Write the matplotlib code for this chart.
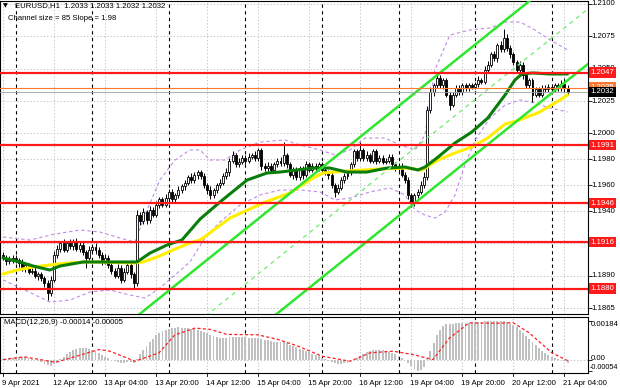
import matplotlib
matplotlib.use("Agg")
import matplotlib.pyplot as plt
import numpy as np
from matplotlib.transforms import blended_transform_factory

# ---------------- data ----------------
close = [
    1.1904, 1.1901, 1.1902, 1.1904, 1.1902, 1.1900, 1.1896, 1.1898, 1.1893, 1.1894,
    1.1890, 1.1891, 1.1888, 1.1884, 1.1877, 1.1887, 1.1906, 1.1911, 1.1915, 1.1910,
    1.1915, 1.1913, 1.1916, 1.1911, 1.1914, 1.1908, 1.1904, 1.1910, 1.1912, 1.1910,
    1.1906, 1.1901, 1.1904, 1.1898, 1.1894, 1.1890, 1.1896, 1.1887, 1.1893, 1.1898,
    1.1891, 1.1884, 1.1937, 1.1932, 1.1939, 1.1933, 1.1941, 1.1937, 1.1945, 1.1949,
    1.1945, 1.1950, 1.1955, 1.1949, 1.1952, 1.1956, 1.1959, 1.1962, 1.1966, 1.1964,
    1.1968, 1.1970, 1.1967, 1.1960, 1.1956, 1.1952, 1.1956, 1.1960, 1.1962, 1.1967,
    1.1970, 1.1979, 1.1983, 1.1976, 1.1978, 1.1981, 1.1979, 1.1982, 1.1983, 1.1981,
    1.1987, 1.1975, 1.1973, 1.1975, 1.1972, 1.1976, 1.1979, 1.1977, 1.1983, 1.1976,
    1.1968, 1.1972, 1.1966, 1.1973, 1.1968, 1.1976, 1.1972, 1.1975, 1.1973, 1.1976,
    1.1972, 1.1970, 1.1968, 1.1960, 1.1955, 1.1958, 1.1964, 1.1967, 1.1970, 1.1976,
    1.1986, 1.1981, 1.1987, 1.1981, 1.1983, 1.1979, 1.1986, 1.1979, 1.1981, 1.1978,
    1.1979, 1.1982, 1.1976, 1.1973, 1.1975, 1.1968, 1.1964, 1.1952, 1.1946, 1.1952,
    1.1955, 1.1960, 1.1966, 1.2018, 1.2032, 1.2037, 1.2043, 1.2037, 1.2041, 1.2030,
    1.2022, 1.2030, 1.2035, 1.2032, 1.2037, 1.2035, 1.2037, 1.2036, 1.2038, 1.2041,
    1.2040, 1.2049, 1.2053, 1.2061, 1.2058, 1.2068, 1.2065, 1.2074, 1.2066, 1.2061,
    1.2055, 1.2049, 1.2053, 1.2045, 1.2037, 1.2041, 1.2030, 1.2034, 1.2030, 1.2035,
    1.2034, 1.2036, 1.2034, 1.2037, 1.2035, 1.2038, 1.2035, 1.2032]
first_open = 1.1906
wick_up_pips = [
    2, 2, 3, 2, 2, 2, 3, 2, 2, 2,
    3, 2, 2, 2, 3, 3, 3, 3, 2, 3,
    2, 3, 2, 3, 2, 3, 2, 3, 2, 3,
    2, 2, 3, 2, 2, 2, 3, 2, 3, 2,
    2, 2, 4, 2, 3, 2, 3, 2, 3, 2,
    2, 3, 2, 2, 2, 3, 2, 2, 2, 3,
    2, 2, 2, 2, 2, 3, 2, 2, 3, 2,
    3, 2, 3, 2, 3, 2, 2, 3, 2, 3,
    2, 2, 2, 3, 2, 2, 2, 3, 10, 2,
    2, 2, 2, 2, 2, 3, 2, 2, 2, 2,
    2, 2, 2, 2, 2, 3, 2, 2, 2, 2,
    2, 2, 6, 2, 3, 2, 2, 2, 2, 2,
    2, 2, 2, 2, 2, 2, 2, 2, 2, 2,
    2, 3, 4, 3, 4, 2, 3, 2, 2, 2,
    2, 2, 2, 2, 2, 2, 2, 2, 2, 3,
    2, 3, 3, 2, 3, 2, 3, 7, 3, 2,
    2, 2, 3, 2, 2, 2, 2, 2, 2, 2,
    2, 2, 2, 2, 2, 3, 5, 2]
wick_dn_pips = [
    2, 3, 2, 2, 2, 3, 2, 3, 2, 2,
    2, 3, 2, 3, 6, 3, 2, 2, 3, 2,
    2, 2, 3, 2, 3, 2, 8, 2, 2, 3,
    2, 3, 2, 2, 3, 2, 2, 3, 2, 2,
    3, 4, 2, 3, 2, 3, 2, 2, 2, 3,
    2, 2, 3, 2, 2, 2, 2, 3, 2, 2,
    2, 3, 2, 2, 3, 3, 2, 2, 2, 2,
    2, 3, 2, 2, 2, 2, 3, 2, 2, 2,
    2, 3, 2, 2, 3, 2, 2, 2, 2, 3,
    2, 3, 2, 2, 3, 2, 2, 2, 2, 2,
    2, 2, 3, 2, 4, 2, 2, 2, 2, 2,
    2, 2, 2, 2, 2, 2, 2, 3, 2, 2,
    2, 2, 2, 2, 2, 2, 2, 3, 3, 2,
    2, 2, 2, 2, 2, 3, 2, 2, 3, 2,
    4, 2, 2, 2, 2, 2, 2, 2, 2, 2,
    2, 2, 2, 2, 2, 3, 2, 2, 2, 3,
    2, 2, 2, 3, 2, 2, 6, 2, 2, 2,
    2, 2, 2, 2, 2, 2, 3, 2]

ma_green_idx = [0, 5.3, 9.4, 14.7, 17.9, 25.1, 33.5, 42.0, 46.1, 51.4, 56.1, 61.8,
                68.0, 76.5, 82.8, 86.8, 97.2, 102.5, 107.8, 114.1, 120.4, 126.0,
                130.1, 132.3, 136.4, 141.7, 147.0, 152.0, 157.4, 160.5, 162.7,
                166.1, 171.5, 177]
ma_green_val = [1.19037, 1.19006, 1.18975, 1.18944, 1.18975, 1.19006, 1.19006,
                1.19006, 1.19075, 1.19137, 1.19176, 1.19338, 1.19469, 1.19639,
                1.19694, 1.19701, 1.19732, 1.19732, 1.19701, 1.19701, 1.19732,
                1.19740, 1.19717, 1.19740, 1.19817, 1.19926, 1.20011, 1.20119,
                1.20297, 1.20413, 1.20459, 1.20467, 1.20459, 1.20459]
ma_yellow_idx = [0, 4.4, 9.4, 14.7, 20.1, 26.3, 30.4, 40.8, 43.9, 48.3, 53.3, 58.6,
                 61.8, 71.2, 81.5, 90.0, 97.2, 100.3, 107.8, 118.2, 126.6, 131.3,
                 136.4, 141.7, 147.0, 152.0, 157.4, 161.1, 168.3, 174.6, 177]
ma_yellow_val = [1.18913, 1.18944, 1.18967, 1.18983, 1.18998, 1.19006, 1.19006,
                 1.18998, 1.19006, 1.19044, 1.19099, 1.19153, 1.19176, 1.19346,
                 1.19462, 1.19540, 1.19655, 1.19694, 1.19709, 1.19725, 1.19732,
                 1.19717, 1.19794, 1.19849, 1.19895, 1.19965, 1.20072, 1.20096,
                 1.20165, 1.20258, 1.20297]
bb_upper_idx = [0, 8.5, 16.3, 24.1, 30.4, 36.7, 41.4, 44.5, 49.2, 53.9, 58.6, 61.8,
                64.9, 69.6, 74.3, 80.6, 88.4, 93.1, 99.4, 104.1, 108.8, 113.5, 119.7,
                124.5, 129.2, 132.3, 135.4, 140.1, 146.4, 152.7, 157.4, 162.1, 166.8,
                171.5, 177]
bb_upper_val = [1.19199, 1.19176, 1.19222, 1.19253, 1.19238, 1.19191, 1.19160,
                1.19369, 1.19640, 1.19794, 1.19872, 1.19872, 1.19794, 1.19794,
                1.19872, 1.19933, 1.19949, 1.19910, 1.19872, 1.19833, 1.19872,
                1.19964, 1.19964, 1.19910, 1.19872, 1.19987, 1.20490, 1.20760,
                1.20799, 1.20815, 1.20861, 1.20861, 1.20799, 1.20722, 1.20645]
bb_lower_idx = [0, 6.9, 14.7, 21.0, 27.3, 33.5, 39.8, 44.5, 49.2, 53.9, 58.6, 63.3,
                68.0, 74.3, 80.6, 86.8, 93.1, 99.4, 104.1, 108.8, 115.0, 121.3, 126.0,
                129.2, 132.3, 135.4, 138.6, 141.7, 144.8, 148.0, 152.7, 157.4, 162.1,
                166.8, 171.5, 177]
bb_lower_val = [1.18867, 1.18789, 1.18696, 1.18712, 1.18774, 1.18789, 1.18751,
                1.18727, 1.18805, 1.18905, 1.19006, 1.19191, 1.19315, 1.19446,
                1.19524, 1.19562, 1.19562, 1.19547, 1.19485, 1.19500, 1.19547,
                1.19578, 1.19524, 1.19408, 1.19369, 1.19346, 1.19392, 1.19524,
                1.19756, 1.19949, 1.20119, 1.20219, 1.20258, 1.20235, 1.20196,
                1.20165]

channel_size_pips = 85
channel_slope_pips = 1.98
channel_anchor_idx = 177
channel_anchor_lower = 1.2041

levels = [1.2047, 1.1991, 1.1946, 1.1916, 1.1880]
ask_line = 1.2035
last_price = 1.2032
price_ticks = [1.2100, 1.2075, 1.2050, 1.2025, 1.2000, 1.1980, 1.1960, 1.1940,
               1.1915, 1.1890, 1.1865]
price_tick_labels = ["1.2100", "1.2075", "1.2050", "1.2025", "1.2000", "1.1980",
                     "1.1960", "1.1940", "1.1915", "1.1890", "1.1865"]

macd_hist_e5 = [
    2, 4, 6, 8, 10, 12, 12, 10, 8, 4,
    0, -6, -12, -20, -28, -32, -22, -10, 2, 14,
    26, 36, 44, 50, 55, 56, 54, 50, 46, 40,
    32, 22, 14, 6, -2, -8, -12, -16, -14, -10,
    -12, -16, 5, 25, 45, 65, 85, 100, 115, 125,
    135, 142, 148, 150, 152, 153, 152, 150, 150, 148,
    145, 142, 138, 132, 125, 118, 112, 108, 105, 104,
    105, 108, 110, 108, 108, 107, 106, 105, 105, 104,
    105, 100, 95, 92, 88, 86, 84, 82, 82, 78,
    70, 65, 58, 52, 46, 40, 34, 28, 22, 15,
    8, 2, -5, -12, -18, -22, -22, -18, -14, -8,
    0, 8, 18, 28, 36, 42, 46, 48, 47, 45,
    42, 38, 32, 25, 18, 8, -4, -18, -32, -44,
    -54, -48, -36, 5, 40, 80, 115, 140, 160, 170,
    170, 172, 175, 176, 176, 175, 176, 178, 178, 180,
    180, 182, 184, 184, 183, 184, 182, 182, 178, 172,
    165, 155, 142, 128, 112, 98, 82, 68, 54, 42,
    30, 20, 12, 6, 2, -2, -8, -14]
macd_sig_idx = [0, 6.6, 16.6, 30.1, 33.5, 41.4, 48.9, 53.9, 60.2, 64.9, 70.2, 79.9,
                86.2, 92.5, 100, 108.8, 115, 122.3, 128.5, 134.8, 139.8, 146.1,
                154.9, 159.9, 164.9, 172.1, 177]
macd_sig_e5 = [0, 13, -13, 48, 40, -8, 32, 118, 150, 144, 120, 118, 96, 64, 16, -8,
               32, 40, 24, 0, 100, 175, 173, 176, 128, 32, -5]

time_label_idx = [0, 16, 32, 48, 64, 80, 96, 112, 128, 144, 160, 176]
time_labels = ["9 Apr 2021", "12 Apr 12:00", "13 Apr 04:00", "13 Apr 20:00",
               "14 Apr 12:00", "15 Apr 04:00", "15 Apr 20:00", "16 Apr 12:00",
               "19 Apr 04:00", "19 Apr 20:00", "20 Apr 12:00", "21 Apr 04:00"]
day_sep_idx = [4, 28, 52, 76, 100, 124, 148, 172]

title_text = "EURUSD,H1  1.2033 1.2033 1.2032 1.2032"
channel_text = "Channel size = 85 Slope = 1.98"
macd_text = "MACD(12,26,9) -0.00014 -0.00005"

# ---------------- figure ----------------
plt.rcParams['font.family'] = ['Liberation Sans', 'DejaVu Sans']
FS = 5.6
W, H = 620, 388
fig = plt.figure(figsize=(W / 100, H / 100), dpi=100)
fig.patch.set_facecolor('white')

def fx(px):
    return px / W

def fy(py):
    return 1 - py / H

ax = fig.add_axes([0, fy(314), fx(588), (314 - 1) / H])
ax2 = fig.add_axes([0, fy(373), fx(588), (373 - 317) / H])

xmin, xmax = -0.94, 183.4
for a in (ax, ax2):
    a.set_xlim(xmin, xmax)
    a.set_facecolor('white')
    for s in a.spines.values():
        s.set_color('black')
        s.set_linewidth(0.8)
    a.tick_params(axis='x', which='both', bottom=False, labelbottom=False)
ax.set_ylim(1.18604, 1.21023)
ax2.set_ylim(-0.00064, 0.00203)

# grid + separators
for a in (ax, ax2):
    for t in time_label_idx:
        a.axvline(t, color='#b8b8b8', lw=0.6, ls=(0, (1.5, 2.5)), zorder=1)
    for d in day_sep_idx:
        a.axvline(d, color='black', lw=0.8, ls=(0, (3, 3)), zorder=1.5)
for p in price_ticks:
    ax.axhline(p, color='#b8b8b8', lw=0.6, ls=(0, (1.5, 2.5)), zorder=1)
ax2.axhline(0, color='#b8b8b8', lw=0.6, ls=(0, (1.5, 2.5)), zorder=1)

# price ticks on right
ax.yaxis.tick_right()
ax.set_yticks(price_ticks)
ax.set_yticklabels([])
ax.tick_params(axis='y', direction='out', length=3, width=0.6, color='black')
tr = blended_transform_factory(ax.transAxes, ax.transData)
for p, lab in zip(price_ticks, price_tick_labels):
    ax.text(1.006, p, lab, transform=tr, fontsize=FS, va='center', ha='left',
            color='black', clip_on=False, zorder=8)

# bollinger bands
ax.plot(bb_upper_idx, bb_upper_val, color='#c08ae6', lw=0.8, ls=(0, (3, 2.5)), zorder=2)
ax.plot(bb_lower_idx, bb_lower_val, color='#c08ae6', lw=0.8, ls=(0, (3, 2.5)), zorder=2)

# candles
n = len(close)
x = np.arange(n)
c = np.array(close)
o = np.array([first_open] + close[:-1])
hi = np.maximum(o, c) + np.array(wick_up_pips) * 1e-4
lo = np.minimum(o, c) - np.array(wick_dn_pips) * 1e-4
ax.vlines(x, lo, hi, color='black', lw=0.7, zorder=3)
bull = c >= o
bh = np.maximum(np.abs(c - o), 0.00004)
bb = np.minimum(o, c)
ax.bar(x[bull], bh[bull], bottom=bb[bull], width=0.62, color='white',
       edgecolor='black', linewidth=0.6, zorder=3.2)
ax.bar(x[~bull], bh[~bull], bottom=bb[~bull], width=0.62, color='black',
       edgecolor='black', linewidth=0.6, zorder=3.2)

# moving averages
ax.plot(ma_yellow_idx, ma_yellow_val, color='#ffee00', lw=2.2, zorder=4,
        solid_capstyle='round')
ax.plot(ma_green_idx, ma_green_val, color='#0a7d0a', lw=2.2, zorder=4.1,
        solid_capstyle='round')

# channel
xx = np.array([xmin - 5, xmax + 5])
lower = channel_anchor_lower + (xx - channel_anchor_idx) * channel_slope_pips * 1e-4
upper = lower + channel_size_pips * 1e-4
mid = lower + channel_size_pips * 0.5e-4
ax.plot(xx, upper, color='#2ee62e', lw=1.8, zorder=5)
ax.plot(xx, lower, color='#2ee62e', lw=1.8, zorder=5)
ax.plot(xx, mid, color='#7aee7a', lw=1.0, ls=(0, (3, 3)), zorder=5)

# levels
for lv in levels:
    ax.axhline(lv, color='#ff1a1a', lw=1.6, zorder=5.5)
    ax.text(1.004, lv, f"{lv:.4f}", transform=tr, fontsize=FS, va='center',
            ha='left', color='white', clip_on=False, zorder=10,
            bbox=dict(boxstyle='square,pad=0.22', fc='#ff1a1a', ec='none'))
ax.axhline(ask_line, color='#ff7a30', lw=0.8, zorder=5.4)
ax.axhline(last_price, color='#a0a0a0', lw=0.6, zorder=5.3)
ax.text(1.004, ask_line + 0.00008, f"{ask_line:.4f}", transform=tr, fontsize=FS,
        va='center', ha='left', color='white', clip_on=False, zorder=10,
        bbox=dict(boxstyle='square,pad=0.22', fc='#ff7a30', ec='none'))
ax.text(1.004, last_price, f"{last_price:.4f}", transform=tr, fontsize=FS,
        va='center', ha='left', color='white', clip_on=False, zorder=11,
        bbox=dict(boxstyle='square,pad=0.22', fc='black', ec='none'))

# titles
fig.text(fx(3), fy(6), "\u25bc", fontsize=4.5, va='center', ha='left',
         family=['DejaVu Sans'])
fig.text(fx(15), fy(6), title_text, fontsize=FS, va='center', ha='left')
fig.text(fx(8), fy(19), channel_text, fontsize=FS, va='center', ha='left')

# MACD
ax2.bar(x, np.array(macd_hist_e5) * 1e-5, width=0.6, color='#c0c0c0', zorder=2)
ax2.plot(macd_sig_idx, np.array(macd_sig_e5) * 1e-5, color='#ff2020', lw=0.9,
         ls=(0, (2.5, 1.8)), zorder=3)
ax2.text(0.007, 0.9, macd_text, transform=ax2.transAxes, fontsize=FS,
         va='center', ha='left')
ax2.yaxis.tick_right()
ax2.set_yticks([0.00184, 0.0, -0.00054])
ax2.set_yticklabels([])
ax2.tick_params(axis='y', direction='out', length=3, width=0.6)
tr2 = blended_transform_factory(ax2.transAxes, ax2.transData)
ax2.text(1.004, 0.00184, "0.00184", transform=tr2, fontsize=FS, va='top', ha='left',
         clip_on=False)
ax2.text(1.004, 0.00004, "0.00", transform=tr2, fontsize=FS, va='center', ha='left',
         clip_on=False)
ax2.text(1.002, -0.00054, "-0.00054", transform=tr2, fontsize=5.2, va='bottom',
         ha='left', clip_on=False)

# time axis
trx = blended_transform_factory(ax2.transData, ax2.transAxes)
for t, lab in zip(time_label_idx, time_labels):
    ax2.plot([t, t], [0, -0.06], transform=trx, color='black', lw=0.6,
             clip_on=False)
    ax2.text(t - 0.4, -0.13, lab, transform=trx, fontsize=FS, va='top', ha='left',
             clip_on=False)

fig.savefig("out.png", dpi=100)
